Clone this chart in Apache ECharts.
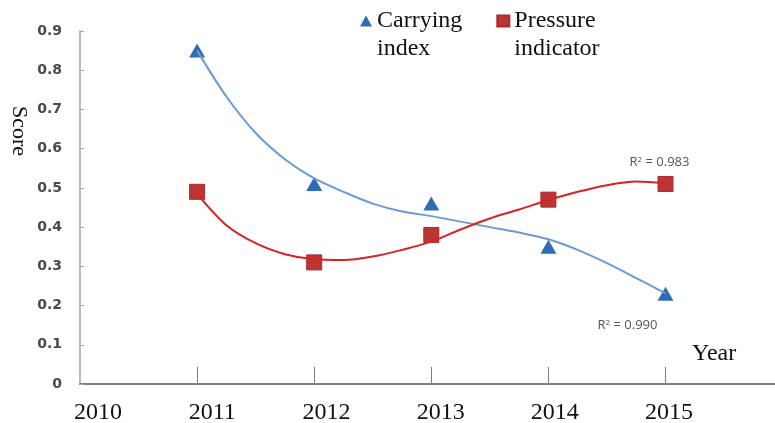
<!DOCTYPE html>
<html>
<head>
<meta charset="utf-8">
<title>Carrying index vs Pressure indicator</title>
<script src="https://cdn.jsdelivr.net/npm/echarts@6/dist/echarts.min.js"></script>
<style>
  * { margin: 0; padding: 0; }
  html, body { width: 775px; height: 423px; background: #fff; }
  #chart { width: 775px; height: 423px; }
</style>
</head>
<body>
<div id="chart"></div>
<script>
// 年份与指标数据
var years = [2011, 2012, 2013, 2014, 2015];
var yearLabels = [2010, 2011, 2012, 2013, 2014, 2015];
var carryingIndex = [0.85, 0.51, 0.46, 0.35, 0.23];
var pressureIndicator = [0.49, 0.31, 0.38, 0.47, 0.51];

// 趋势线（从图上逐季读取）
var trendYears = [2011, 2011.25, 2011.5, 2011.75, 2012, 2012.25, 2012.5, 2012.75, 2013,
                  2013.25, 2013.5, 2013.75, 2014, 2014.25, 2014.5, 2014.75, 2015];
var carryingTrend = [0.85, 0.733, 0.64, 0.573, 0.524, 0.49, 0.46, 0.44, 0.428,
                     0.414, 0.40, 0.386, 0.369, 0.342, 0.308, 0.27, 0.231];
var pressureTrend = [0.485, 0.405, 0.359, 0.331, 0.318, 0.316, 0.325, 0.342, 0.363,
                     0.394, 0.422, 0.445, 0.469, 0.49, 0.507, 0.516, 0.512];

var r2Labels = ['R{s|2} = 0.990', 'R{s|2} = 0.983'];

function pairs(xs, ys) {
  return xs.map(function (x, i) { return [x, ys[i]]; });
}

var serif = "'Liberation Serif', 'Times New Roman', serif";
var sans = "'Open Sans', 'Noto Sans', sans-serif";
var r2Rich = {
  s: { fontFamily: sans, fontSize: 8, color: '#555', verticalAlign: 'top', lineHeight: 10 }
};

var myChart = echarts.init(document.getElementById('chart'));
myChart.setOption({
  animation: false,
  backgroundColor: '#fff',
  grid: { left: 80, right: 0, top: 31, bottom: 39, containLabel: false, outerBoundsMode: 'none' },
  legend: {
    left: 360,
    top: -21,
    padding: 0,
    itemGap: 34,
    itemWidth: 12,
    itemHeight: 11,
    textStyle: { fontFamily: serif, fontSize: 24, color: '#111', lineHeight: 28 },
    formatter: function (name) { return '\n' + name; },
    data: [
      { name: 'Carrying\nindex', icon: 'triangle' },
      { name: 'Pressure\nindicator', icon: 'rect' }
    ]
  },
  xAxis: [
    {
      type: 'value',
      min: 2010,
      max: 2015.935,
      interval: 1,
      splitLine: { show: false },
      axisLine: { lineStyle: { color: '#7f7f7f', width: 2 } },
      axisTick: {
        inside: true, length: 17, customValues: years,
        lineStyle: { color: '#7f7f7f', width: 1 }
      },
      axisLabel: { show: false }
    },
    {
      // 年份标签略向右偏移
      type: 'value',
      position: 'bottom',
      min: 2009.842,
      max: 2015.928,
      splitLine: { show: false },
      axisLine: { show: false },
      axisTick: { show: false },
      axisLabel: {
        customValues: yearLabels,
        fontFamily: serif, fontSize: 24, color: '#111', margin: 17,
        formatter: function (v) { return String(v); }
      }
    }
  ],
  yAxis: {
    type: 'value',
    min: 0,
    max: 0.9,
    interval: 0.1,
    splitLine: { show: false },
    axisLine: { show: true, lineStyle: { color: '#a6a6a6', width: 1.5 } },
    axisTick: { show: true, inside: true, length: 4, lineStyle: { color: '#a6a6a6' } },
    axisLabel: {
      fontFamily: "'DejaVu Sans', sans-serif", fontSize: 14, fontWeight: 'bold',
      color: '#4a4a4a', margin: 18,
      formatter: function (v) { return String(Math.round(v * 10) / 10); }
    }
  },
  graphic: [
    {
      type: 'text', x: 19, y: 131, rotation: -Math.PI / 2,
      style: { text: 'Score', font: '22px ' + serif, fill: '#111', align: 'center', verticalAlign: 'middle' }
    },
    {
      type: 'text', left: 692, top: 342,
      style: { text: 'Year', font: '24px ' + serif, fill: '#111' }
    }
  ],
  series: [
    {
      name: 'Carrying trend',
      type: 'line',
      smooth: 0.3,
      showSymbol: false,
      data: pairs(trendYears, carryingTrend),
      lineStyle: { color: '#6a9bd6', width: 2 },
      z: 3,
      markPoint: {
        symbol: 'circle', symbolSize: 0,
        label: {
          show: true, formatter: r2Labels[0], offset: [-38, 32],
          fontFamily: sans, fontSize: 13, color: '#555', rich: r2Rich
        },
        data: [{ coord: [years[4], carryingTrend[16]] }]
      }
    },
    {
      name: 'Pressure trend',
      type: 'line',
      smooth: 0.3,
      showSymbol: false,
      data: pairs(trendYears, pressureTrend),
      lineStyle: { color: '#d42323', width: 2 },
      z: 3,
      markPoint: {
        symbol: 'circle', symbolSize: 0,
        label: {
          show: true, formatter: r2Labels[1], offset: [-6, -21],
          fontFamily: sans, fontSize: 13, color: '#555', rich: r2Rich
        },
        data: [{ coord: [years[4], pressureTrend[16]] }]
      }
    },
    {
      name: 'Carrying\nindex',
      type: 'scatter',
      symbol: 'triangle',
      symbolSize: [16, 14],
      data: pairs(years, carryingIndex),
      itemStyle: { color: '#2e6db6', opacity: 1 },
      z: 2
    },
    {
      name: 'Pressure\nindicator',
      type: 'scatter',
      symbol: 'rect',
      symbolSize: 15,
      data: pairs(years, pressureIndicator),
      itemStyle: { color: '#bb3535', borderColor: '#a82a2a', borderWidth: 1, opacity: 1 },
      z: 2
    }
  ]
});
window.addEventListener('resize', function () { myChart.resize(); });
</script>
</body>
</html>
